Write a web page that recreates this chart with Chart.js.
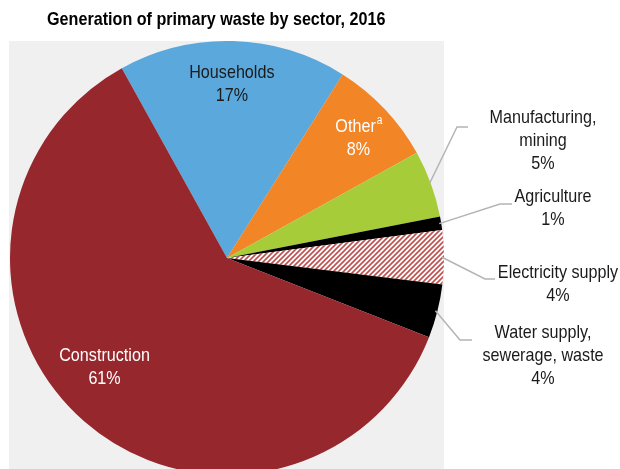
<!DOCTYPE html>
<html>
<head>
<meta charset="utf-8">
<script src="https://cdn.jsdelivr.net/npm/chart.js@4"></script>
<style>
  html, body { margin: 0; padding: 0; background: #fff; overflow: hidden; }
  #wrap { width: 620px; height: 469px; overflow: hidden; }
</style>
</head>
<body>
<div id="wrap"><canvas id="pieChart" width="620" height="480"></canvas></div>
<script>
const sectors = ["Households", "Other", "Manufacturing, mining", "Agriculture",
  "Electricity supply", "Water supply, sewerage, waste", "Construction"];
const shares = [17, 8, 5, 1, 4, 4, 61];
const labelLines = [
  ["Households", "17%"],
  ["Other", "8%"],
  ["Manufacturing,", "mining", "5%"],
  ["Agriculture", "1%"],
  ["Electricity supply", "4%"],
  ["Water supply,", "sewerage, waste", "4%"],
  ["Construction", "61%"]
];

const FONT = '"Liberation Sans", Arial, sans-serif';
const NARROW = 0.85; // squeeze text horizontally, no narrow font installed

function stripes() {
  const c = document.createElement("canvas");
  c.width = 5; c.height = 5;
  const g = c.getContext("2d");
  g.fillStyle = "#fff";
  g.fillRect(0, 0, 5, 5);
  g.strokeStyle = "#c0504d";
  g.lineWidth = 1.6;
  g.beginPath();
  g.moveTo(-1, 6); g.lineTo(6, -1);
  g.moveTo(-1, 1); g.lineTo(1, -1);
  g.moveTo(4, 6); g.lineTo(6, 4);
  g.stroke();
  return g.createPattern(c, "repeat");
}

const sliceColors = ["#5ba8dc", "#f28526", "#a6cc3a", "#000000", stripes(), "#000000", "#96272d"];

// label layout: inside ones sit near the mid-angle, outside ones get a leader line
const labelStyle = [
  { inside: true, r: 0.8, da: 0, color: "#1a1a1a" },
  { inside: true, r: 0.82, da: 1, color: "#ffffff", sup: "a" },
  { elbow: [457, 127], end: 468, x: 543, y: 118 },
  { elbow: [500, 204], end: 512, x: 553, y: 197 },
  { elbow: [485, 279], end: 495, x: 558, y: 273 },
  { elbow: [460, 340], end: 472, x: 543, y: 333 },
  { inside: true, r: 0.757, da: 7, color: "#ffffff" }
];

// draw text squeezed horizontally, anchored at (x, y) with given alignment
function narrowText(ctx, text, x, y, align) {
  ctx.save();
  ctx.translate(x, y);
  ctx.scale(NARROW, 1);
  ctx.textAlign = align;
  ctx.fillText(text, 0, 0);
  ctx.restore();
}

const panelAndLabels = {
  id: "panelAndLabels",
  beforeDraw(chart) {
    const ctx = chart.ctx;
    ctx.save();
    ctx.fillStyle = "#f0f0f0";
    ctx.fillRect(9, 41, 435, 440);
    ctx.fillStyle = "#000";
    ctx.font = "bold 19px " + FONT;
    ctx.textBaseline = "middle";
    narrowText(ctx, "Generation of primary waste by sector, 2016", 47, 20, "left");
    ctx.restore();
  },
  afterDraw(chart) {
    const ctx = chart.ctx;
    const arcs = chart.getDatasetMeta(0).data;
    const lh = 23;
    ctx.save();
    ctx.font = "19px " + FONT;
    ctx.textBaseline = "middle";
    arcs.forEach((arc, i) => {
      const p = arc.getProps(["x", "y", "startAngle", "endAngle", "outerRadius"], true);
      const mid = (p.startAngle + p.endAngle) / 2;
      const st = labelStyle[i];
      const lines = labelLines[i];
      if (st.inside) {
        const a = mid + st.da * Math.PI / 180;
        const cx = p.x + Math.cos(a) * p.outerRadius * st.r;
        const cy = p.y + Math.sin(a) * p.outerRadius * st.r;
        const y0 = cy - (lines.length - 1) * lh / 2;
        ctx.fillStyle = st.color;
        lines.forEach((t, k) => {
          if (k === 0 && st.sup) {
            ctx.font = "19px " + FONT;
            const w1 = ctx.measureText(t).width * NARROW;
            ctx.font = "12px " + FONT;
            const w2 = ctx.measureText(st.sup).width * NARROW;
            const left = cx - (w1 + w2) / 2;
            ctx.font = "19px " + FONT;
            narrowText(ctx, t, left, y0, "left");
            ctx.font = "12px " + FONT;
            narrowText(ctx, st.sup, left + w1 + 1, y0 - 6, "left");
            ctx.font = "19px " + FONT;
          } else {
            narrowText(ctx, t, cx, y0 + k * lh, "center");
          }
        });
      } else {
        const sx = p.x + Math.cos(mid) * (p.outerRadius - 2);
        const sy = p.y + Math.sin(mid) * (p.outerRadius - 2);
        ctx.strokeStyle = "#b4b4b4";
        ctx.lineWidth = 1.5;
        ctx.beginPath();
        ctx.moveTo(sx, sy);
        ctx.lineTo(st.elbow[0], st.elbow[1]);
        ctx.lineTo(st.end, st.elbow[1]);
        ctx.stroke();
        ctx.fillStyle = "#1a1a1a";
        lines.forEach((t, k) => narrowText(ctx, t, st.x, st.y + k * lh, "center"));
      }
    });
    ctx.restore();
  }
};

new Chart(document.getElementById("pieChart"), {
  type: "pie",
  data: {
    labels: sectors,
    datasets: [{
      data: shares,
      backgroundColor: sliceColors,
      borderWidth: 0
    }]
  },
  options: {
    responsive: false,
    animation: false,
    devicePixelRatio: 1,
    rotation: -29,
    layout: { padding: { left: 10, top: 41, right: 176, bottom: 5 } },
    plugins: {
      legend: { display: false },
      tooltip: { enabled: false }
    }
  },
  plugins: [panelAndLabels]
});
</script>
</body>
</html>
